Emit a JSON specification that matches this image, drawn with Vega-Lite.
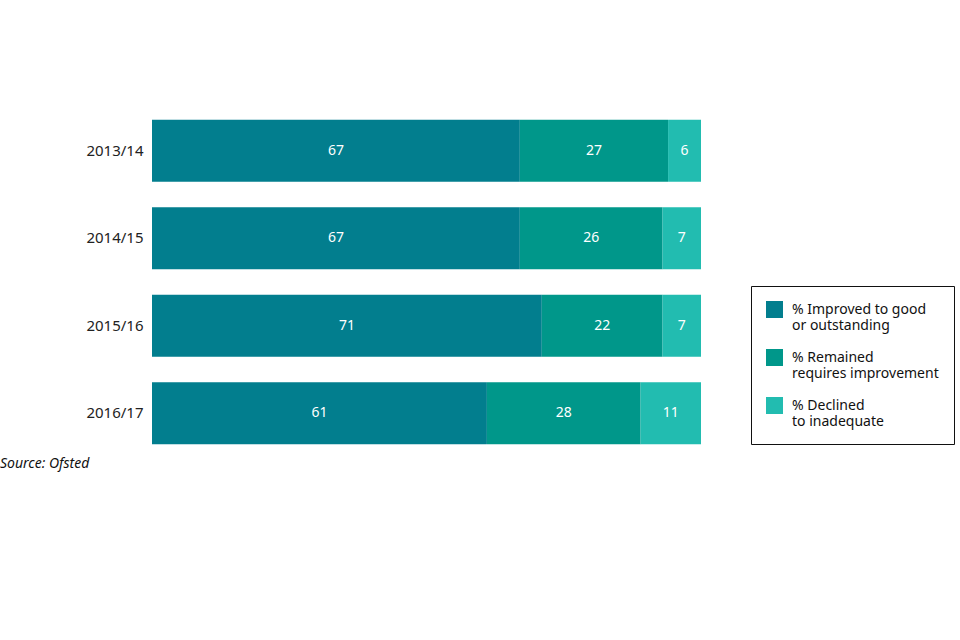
{
  "$schema": "https://vega.github.io/schema/vega-lite/v6.json",
  "width": 549,
  "height": 350,
  "autosize": "none",
  "padding": {"left": 152, "top": 107, "right": 259, "bottom": 183},
  "background": "white",
  "view": {"stroke": null},
  "title": {
    "text": "Source: Ofsted",
    "orient": "bottom",
    "anchor": "start",
    "frame": "group",
    "dx": -152,
    "offset": 0,
    "font": "Noto Sans",
    "fontSize": 14,
    "fontStyle": "italic",
    "fontWeight": "normal",
    "color": "#111"
  },
  "data": {
    "values": [
      {"year": "2013/14", "category": "% Improved to good|or outstanding", "order": 1, "value": 67},
      {"year": "2013/14", "category": "% Remained|requires improvement", "order": 2, "value": 27},
      {"year": "2013/14", "category": "% Declined|to inadequate", "order": 3, "value": 6},
      {"year": "2014/15", "category": "% Improved to good|or outstanding", "order": 1, "value": 67},
      {"year": "2014/15", "category": "% Remained|requires improvement", "order": 2, "value": 26},
      {"year": "2014/15", "category": "% Declined|to inadequate", "order": 3, "value": 7},
      {"year": "2015/16", "category": "% Improved to good|or outstanding", "order": 1, "value": 71},
      {"year": "2015/16", "category": "% Remained|requires improvement", "order": 2, "value": 22},
      {"year": "2015/16", "category": "% Declined|to inadequate", "order": 3, "value": 7},
      {"year": "2016/17", "category": "% Improved to good|or outstanding", "order": 1, "value": 61},
      {"year": "2016/17", "category": "% Remained|requires improvement", "order": 2, "value": 28},
      {"year": "2016/17", "category": "% Declined|to inadequate", "order": 3, "value": 11}
    ]
  },
  "transform": [
    {"stack": "value", "groupby": ["year"], "sort": [{"field": "order"}], "as": ["x0", "x1"]},
    {"calculate": "(datum.x0 + datum.x1) / 2", "as": "mid"}
  ],
  "encoding": {
    "y": {
      "field": "year",
      "type": "nominal",
      "title": null,
      "scale": {"paddingInner": 0.29, "paddingOuter": 0.145},
      "axis": {
        "ticks": false,
        "domain": false,
        "labelPadding": 9,
        "labelFont": "Noto Sans",
        "labelFontSize": 15,
        "labelColor": "#222"
      }
    }
  },
  "layer": [
    {
      "mark": {"type": "bar"},
      "encoding": {
        "x": {"field": "x0", "type": "quantitative", "scale": {"domain": [0, 100], "nice": false}, "axis": null},
        "x2": {"field": "x1"},
        "color": {
          "field": "category",
          "type": "nominal",
          "scale": {
            "domain": ["% Improved to good|or outstanding", "% Remained|requires improvement", "% Declined|to inadequate"],
            "range": ["#027e8e", "#00978a", "#22bcb0"]
          },
          "legend": {
            "title": null,
            "orient": "none",
            "legendX": 599,
            "legendY": 179,
            "padding": 15,
            "strokeColor": "#111",
            "symbolType": "square",
            "symbolSize": 289,
            "symbolStrokeWidth": 0,
            "symbolOpacity": 1,
            "labelFont": "Noto Sans",
            "labelFontSize": 14,
            "labelColor": "#111",
            "labelOffset": 9,
            "labelLimit": 300,
            "rowPadding": 16,
            "labelExpr": "split(datum.label, '|')"
          }
        }
      }
    },
    {
      "mark": {"type": "text", "color": "white", "font": "Noto Sans", "fontSize": 14},
      "encoding": {
        "x": {"field": "mid", "type": "quantitative"},
        "text": {"field": "value", "type": "quantitative"}
      }
    }
  ]
}
